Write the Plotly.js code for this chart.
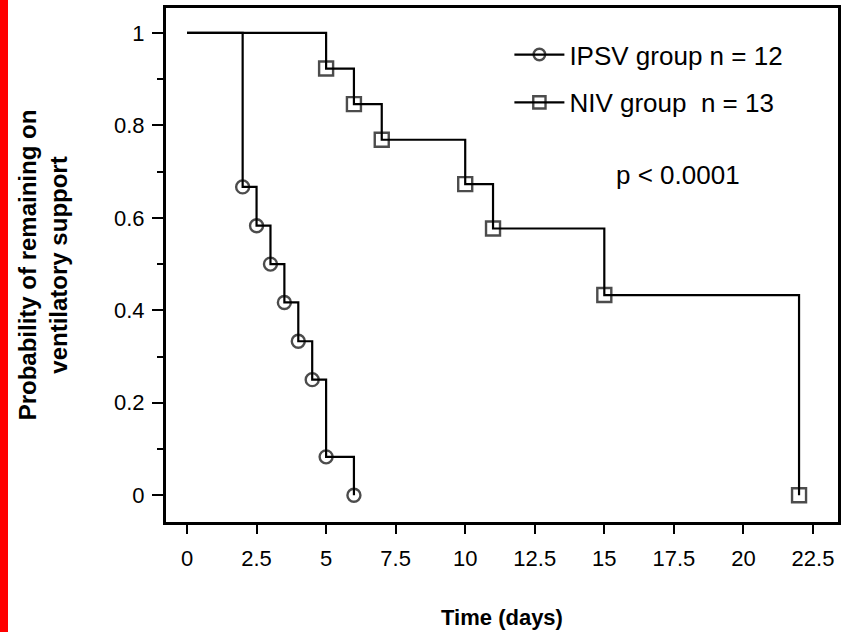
<!DOCTYPE html>
<html>
<head>
<meta charset="utf-8">
<script src="https://cdn.plot.ly/plotly-3.0.1.min.js"></script>
<style>
  html, body { margin: 0; padding: 0; background: #fff; }
  #bar { position: absolute; left: 0; top: 0; width: 8px; height: 632px; background: #ff0000; z-index: 5; }
  #chart { width: 846px; height: 632px; }
</style>
</head>
<body>
<div id="bar"></div>
<div id="chart"></div>
<script>
// Kaplan-Meier step data
const ipsvDays = [0, 2, 2.5, 3, 3.5, 4, 4.5, 5, 6];
const ipsvProb = [1, 0.667, 0.583, 0.5, 0.417, 0.333, 0.25, 0.083, 0];
const nivDays = [0, 5, 6, 7, 10, 11, 15, 22];
const nivProb = [1, 0.923, 0.846, 0.769, 0.673, 0.577, 0.433, 0];
const xTickVals = [0, 2.5, 5, 7.5, 10, 12.5, 15, 17.5, 20, 22.5];
const xTickText = ['0', '2.5', '5', '7.5', '10', '12.5', '15', '17.5', '20', '22.5'];
const yTickVals = [0, 0.2, 0.4, 0.6, 0.8, 1];
const yTickText = ['0', '0.2', '0.4', '0.6', '0.8', '1'];

const FONT = 'Arial, "Liberation Sans", Helvetica, sans-serif';

function sizes(n, s) { return Array.from({length: n}, (_, i) => i === 0 ? 0 : s); }

const traces = [
  {
    x: ipsvDays, y: ipsvProb, name: 'IPSV group n = 12', legendgroup: 'a',
    mode: 'lines+markers', line: {shape: 'hv', color: '#000', width: 2.2},
    marker: {symbol: 'circle-open', size: sizes(ipsvDays.length, 13), color: '#000', line: {width: 2.4, color: '#000'}}
  },
  {
    x: nivDays, y: nivProb, name: 'NIV group&nbsp; n = 13', legendgroup: 'b',
    mode: 'lines+markers', line: {shape: 'hv', color: '#000', width: 2.2},
    marker: {symbol: 'square-open', size: sizes(nivDays.length, 14), color: '#000', line: {width: 2.4, color: '#000'}}
  }
];

const layout = {
  width: 846, height: 632,
  margin: {l: 166, r: 8, t: 8, b: 110},
  paper_bgcolor: '#fff', plot_bgcolor: '#fff',
  font: {family: FONT, color: '#000', size: 22},
  showlegend: true,
  legend: {
    x: 0.511, y: 0.955, xanchor: 'left', yanchor: 'top',
    bgcolor: 'rgba(0,0,0,0)', borderwidth: 0,
    font: {family: FONT, size: 26, color: '#000'},
    itemwidth: 50, tracegroupgap: 11, traceorder: 'grouped'
  },
  xaxis: {
    range: [-0.755, 23.4], tickmode: 'array', tickvals: xTickVals, ticktext: xTickText,
    ticks: 'outside', ticklen: 9, tickwidth: 2, tickcolor: '#000',
    showline: true, linewidth: 3, linecolor: '#000', mirror: true,
    showgrid: false, zeroline: false, ticklabelstandoff: 6,
    tickfont: {family: FONT, size: 22, color: '#000'},
    title: {text: '<b>Time (days)</b>', font: {family: FONT, size: 22, color: '#000'}, standoff: 40}
  },
  yaxis: {
    range: [-0.058, 1.054], tickmode: 'array', tickvals: yTickVals, ticktext: yTickText,
    ticks: 'outside', ticklen: 11, tickwidth: 2, tickcolor: '#000',
    minor: {dtick: 0.1, ticks: 'outside', ticklen: 6, tickwidth: 2, tickcolor: '#000'},
    showline: true, linewidth: 3, linecolor: '#000', mirror: true,
    showgrid: false, zeroline: false, ticklabelstandoff: 3,
    tickfont: {family: FONT, size: 22, color: '#000'},
    title: {text: '<b>Probability of remaining on<br>ventilatory support</b>', font: {family: FONT, size: 24, color: '#000'}, standoff: 40}
  },
  annotations: [
    {text: 'p < 0.0001', xref: 'x', yref: 'y', x: 17.66, y: 0.692, showarrow: false,
     font: {family: FONT, size: 26, color: '#000'}}
  ]
};

Plotly.newPlot('chart', traces, layout, {displayModeBar: false, staticPlot: true});
</script>
</body>
</html>
